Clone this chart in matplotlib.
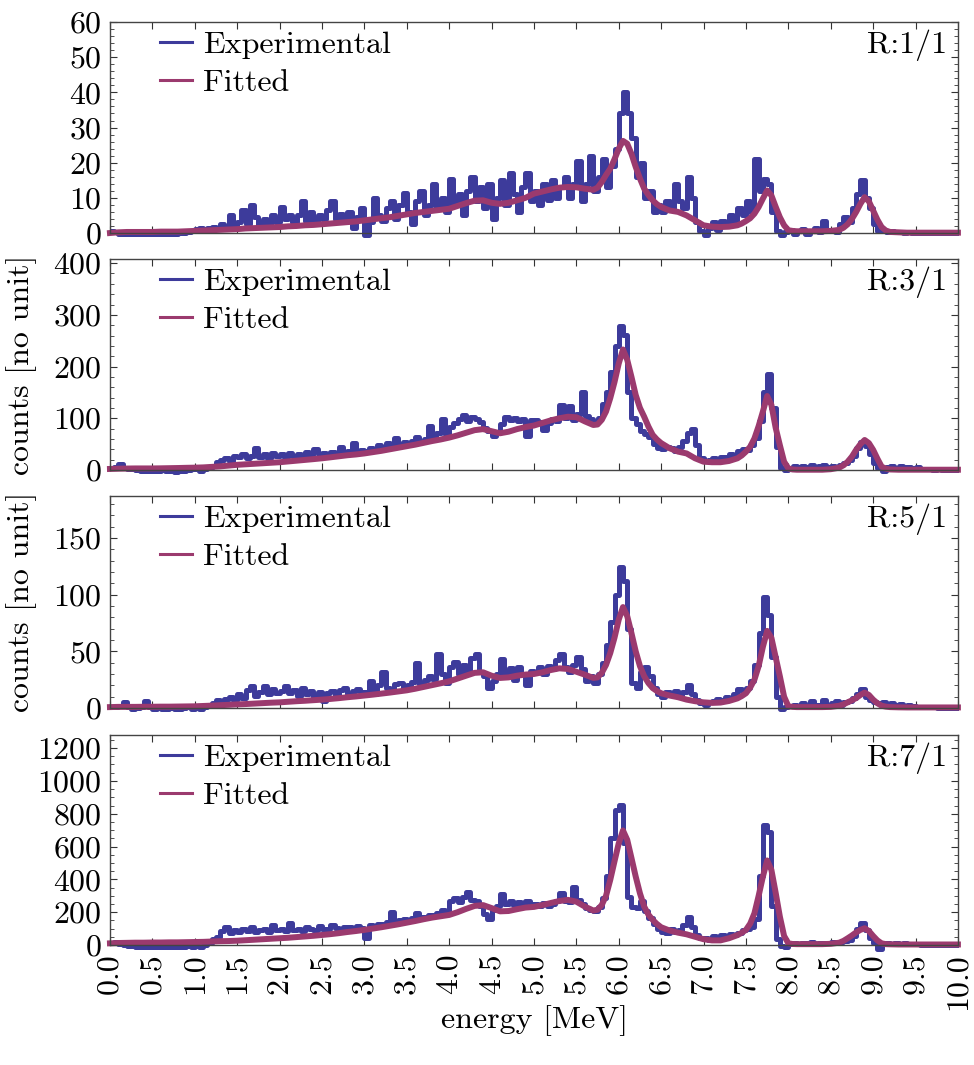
import numpy as np
import matplotlib
matplotlib.use('Agg')
import matplotlib.pyplot as plt
from matplotlib.ticker import MultipleLocator, FormatStrFormatter

# Computer Modern look (cmr10 ships with matplotlib)
plt.rcParams['font.family'] = 'cmr10'
plt.rcParams['mathtext.fontset'] = 'cm'
plt.rcParams['axes.formatter.use_mathtext'] = True

# detector bins, 0.05 MeV wide (bin centres)
exp_energy = np.arange(200) * 0.05 + 0.025

# fit evaluated on a grid that is finer around the three peaks
fit_energy = np.concatenate([
    np.linspace(0.0, 5.7, 58),
    np.linspace(5.75, 6.45, 15),
    np.linspace(6.5, 7.4, 10),
    np.linspace(7.45, 8.05, 13),
    np.linspace(8.1, 8.6, 6),
    np.linspace(8.65, 9.15, 11),
    np.linspace(9.2, 10.0, 9),
])

# ---- R:1/1 ----
exp_r1 = [
    0.5, 0.3, -0.2, -0.4, -0.3, -0.4, -0.3, -0.2, -0.4, -0.3, -0.2, -0.3, -0.4, -0.2, -0.3, -0.2, -0.1, 0.0, 0.3, 0.5,
    1.2, 1.5, 0.8, 1.3, 1.8, 1.5, 2.5, 2.0, 5.0, 1.5, 3.0, 6.5, 2.5, 8.0, 4.5, 2.0, 4.0, 2.5, 5.0, 3.0,
    7.5, 4.0, 5.0, 3.0, 5.0, 9.0, 3.5, 6.0, 3.0, 5.0, 4.0, 6.5, 9.0, 4.0, 5.5, 3.0, 6.0, 1.5, 4.5, 7.0,
    -0.5, 3.0, 10.0, 5.0, 3.5, 7.0, 9.0, 4.0, 8.0, 11.5, 6.0, 2.5, 9.0, 12.0, 5.0, 8.0, 14.0, 7.0, 10.0, 6.0,
    15.5, 8.0, 11.0, 5.0, 12.0, 16.0, 9.0, 13.0, 7.0, 14.0, 4.0, 10.0, 15.0, 8.0, 17.0, 11.0, 6.0, 13.0, 17.0, 9.0,
    12.0, 8.0, 14.0, 9.5, 15.0, 10.0, 13.0, 16.0, 10.0, 14.0, 20.5, 9.0, 14.0, 22.0, 12.0, 16.0, 21.0, 13.0, 19.0, 24.0,
    34.0, 40.0, 34.0, 27.0, 16.0, 20.0, 10.0, 12.0, 6.0, 8.0, 6.0, 9.0, 7.0, 14.0, 9.0, 7.0, 16.0, 10.0, 3.0, 0.5,
    -0.5, 1.5, 3.0, 1.0, 3.5, 2.0, 5.0, 3.0, 7.0, 5.0, 9.0, 6.0, 21.0, 12.0, 15.5, 14.0, 6.0, 0.5, -0.5, 0.3,
    0.8, -0.3, 0.5, 1.2, -0.2, 0.6, 1.5, 0.2, 3.5, 0.5, 1.0, 0.3, 2.5, 4.5, 3.0, 7.0, 11.0, 15.0, 10.0, 7.0,
    2.5, 0.5, 0.8, 0.3, 0.5, 0.2, 0.4, 0.1, 0.2, 0.1, 0.1, 0.1, 0.1, 0.1, 0.1, 0.1, 0.1, 0.1, 0.1, 0.1,
]
fit_r1 = [
    0.0, 0.2, 0.3, 0.3, 0.3, 0.3, 0.4, 0.4, 0.4, 0.5,
    0.6, 0.7, 0.8, 0.9, 1.0, 1.1, 1.3, 1.4, 1.5, 1.6,
    1.7, 1.9, 2.0, 2.2, 2.3, 2.5, 2.7, 2.9, 3.1, 3.3,
    3.6, 3.9, 4.2, 4.5, 4.9, 5.3, 5.7, 6.0, 6.3, 6.6,
    6.9, 7.7, 8.5, 9.2, 9.3, 8.6, 8.3, 8.6, 9.3, 10.0,
    11.2, 11.8, 12.4, 12.9, 13.1, 13.0, 12.6, 12.3,
    12.9, 14.5, 16.5, 18.3, 21.0, 24.0, 26.2, 25.4, 22.5, 18.8, 15.5, 12.6, 10.8, 9.3, 8.2,
    7.4, 6.4, 6.0, 5.0, 3.6, 2.2, 1.8, 1.7, 1.8, 2.2,
    2.7, 3.4, 4.2, 5.5, 7.4, 9.8, 12.1, 10.7, 7.5, 4.5, 2.2, 0.8, 0.6,
    0.5, 0.5, 0.5, 0.5, 0.6, 0.9,
    1.5, 2.5, 4.0, 6.0, 8.3, 10.2, 9.0, 6.4, 3.8, 1.7, 0.7,
    0.3, 0.2, 0.1, 0.1, 0.1, 0.1, 0.1, 0.1, 0.1,
]

# ---- R:3/1 ----
exp_r3 = [
    3, 5, 12, 4, 2, 1, 0, -1, -2, -1, -2, -1, 0, -2, -1, -3, -2, -1, 0, 1,
    2, -2, 1, 4, 8, 15, 20, 24, 18, 28, 25, 30, 24, 28, 42, 26, 30, 24, 32, 27,
    30, 26, 33, 28, 31, 27, 34, 29, 40, 30, 33, 28, 35, 31, 45, 33, 36, 52, 34, 38,
    36, 42, 39, 48, 44, 52, 47, 62, 50, 54, 49, 57, 63, 55, 60, 86, 64, 72, 98, 70,
    84, 90, 98, 106, 95, 102, 98, 92, 82, 76, 66, 72, 88, 103, 96, 100, 94, 98, 66, 96,
    96, 92, 78, 90, 98, 94, 125, 100, 124, 96, 108, 150, 104, 98, 92, 100, 128, 150, 190, 240,
    278, 262, 150, 100, 88, 76, 70, 64, 50, 43, 40, 45, 42, 36, 44, 56, 72, 80, 48, 24,
    18, 20, 24, 22, 26, 25, 30, 28, 36, 40, 38, 48, 62, 95, 150, 185, 120, 45, 3, 0,
    4, 7, 3, 8, 5, 9, 4, 7, 10, 5, 8, 6, 10, 14, 19, 28, 42, 55, 46, 30,
    14, 4, -2, 5, 7, 4, 8, 5, 6, 3, 6, 2, 1, 1, 0, 1, 0, 0, 0, 0,
]
fit_r3 = [
    2, 2.5, 2.8, 3, 3, 3, 3.2, 3.5, 3.8, 4.2,
    4.5, 5, 6, 7, 8.5, 10, 11, 12, 13, 14,
    15, 16.5, 18, 19.5, 21, 22.6, 24.5, 26.5, 28.5, 30,
    32, 34.5, 37, 40, 43, 46, 49, 52.5, 56, 59,
    62.6, 67, 72, 77, 79, 75, 71, 74, 79, 83,
    86, 91, 96, 100, 103, 102, 94, 87,
    88, 97, 113, 139, 170, 206, 233, 213, 180, 145, 120, 103, 84, 68, 59,
    52, 42, 35.5, 32, 22.6, 16, 15, 15, 17.4, 22.6,
    28, 35.5, 45, 61, 85, 113, 143, 126, 82, 48, 16, 3, 1,
    0.5, 0.5, 0.5, 0.5, 1.5, 4.5,
    9, 16, 26, 39, 50, 58, 52, 39, 22, 6.5, 2.5,
    1, 0.5, 0.5, 0.5, 0.5, 0.5, 0.5, 0.5, 0.5,
]

# ---- R:5/1 ----
exp_r5 = [
    1, 0.5, 1.5, 5.5, 1, -0.5, 0, 0.5, 6.5, 0.5, -1, 0, -0.5, -1, 0, -0.5, -1, 0, 0.5, -0.5,
    0, -1, 1, 2, 4, 7, 5, 8, 10, 7, 12, 9, 16, 19, 11, 14, 19, 12, 17, 13,
    15, 19, 13, 16, 11, 18, 12, 15, 10, 14, 6, 13, 15, 10, 16, 18, 12, 15, 17, 14,
    14, 24, 12, 20, 32, 18, 15, 21, 22, 17, 20, 23, 40, 21, 25, 28, 26, 48, 30, 22,
    36, 41, 30, 38, 33, 44, 48, 32, 28, 18, 24, 30, 43, 28, 35, 25, 36, 30, 20, 33,
    32, 36, 30, 37, 34, 42, 48, 36, 32, 38, 45, 34, 24, 28, 22, 30, 40, 56, 76, 100,
    124, 112, 70, 22, 18, 32, 36, 28, 18, 12, 10, 14, 13, 15, 11, 14, 20, 12, 7, 4,
    3, 5, 6, 8, 7, 10, 9, 12, 17, 14, 18, 24, 38, 66, 98, 82, 45, 10, -1, 1,
    2, 3, 1.5, 4, 2, 6, 3, 2.5, 7, 3, 4, 6, 3, 5, 6, 8.5, 12, 16.5, 10, 7.5,
    5, 4, 5.5, 3, 4, 2.5, 3.5, 2, 2.5, 1.5, 1, 1, 0.5, 0.5, 0.5, 0.3, 0.3, 0.3, 0.3, 0.3,
]
fit_r5 = [
    0.8, 1.0, 1.0, 1.0, 1.1, 1.1, 1.2, 1.2, 1.3, 1.4,
    1.5, 1.8, 2.1, 2.5, 2.8, 3.2, 3.5, 3.9, 4.3, 4.7,
    5.0, 5.5, 6.0, 6.4, 6.9, 7.4, 8.0, 8.7, 9.5, 10.2,
    11.0, 11.8, 12.7, 13.6, 14.6, 15.6, 17.0, 18.6, 20.2, 21.8,
    23.5, 26.0, 28.5, 31.0, 31.5, 28.5, 26.5, 27.0, 28.5, 29.5,
    30.0, 31.5, 33.5, 35.0, 34.4, 32.0, 29.4, 26.5,
    27, 31, 38, 48.5, 62, 78, 89, 81, 66, 50, 37, 28, 22, 17.6, 15,
    13, 11, 9.5, 7.4, 6, 5, 4.5, 4.8, 6.2, 8.5,
    10.5, 13, 18, 25, 37, 54, 68, 62, 45, 28, 10, 1.5, 1,
    0.8, 0.8, 0.8, 0.8, 1.0, 2.0,
    3.2, 5, 6.8, 8.8, 11.5, 13.6, 11.5, 7.4, 4.2, 2, 1.2,
    0.8, 0.6, 0.5, 0.5, 0.5, 0.5, 0.5, 0.5, 0.5,
]

# ---- R:7/1 ----
exp_r7 = [
    10, 18, 5, 0, -5, -8, -10, -12, -10, -14, -12, -15, -10, -14, -12, -15, -10, -12, -8, -10,
    -5, -10, 0, 10, 35, 50, 85, 110, 75, 90, 80, 95, 85, 110, 78, 90, 100, 82, 120, 90,
    95, 88, 135, 92, 100, 85, 110, 98, 92, 115, 100, 95, 120, 102, 90, 108, 112, 98, 115, 105,
    40, 120, 110, 125, 130, 140, 200, 135, 150, 160, 148, 165, 195, 170, 168, 180, 185, 195, 215, 205,
    270, 285, 260, 290, 320, 275, 265, 240, 190, 160, 215, 240, 310, 250, 265, 245, 260, 240, 270, 250,
    250, 238, 255, 240, 248, 265, 318, 270, 262, 355, 275, 250, 228, 215, 210, 230, 285, 420, 650, 820,
    855, 620, 290, 230, 225, 265, 205, 165, 130, 95, 80, 75, 95, 82, 90, 120, 170, 110, 60, 40,
    40, 30, 55, 48, 60, 52, 65, 58, 75, 90, 100, 110, 160, 420, 730, 690, 240, 35, -8, -10,
    5, 12, 8, 15, 10, 18, 8, 12, 15, 10, 18, 12, 16, 22, 30, 55, 95, 132, 90, 45,
    15, -25, 5, 10, 8, 12, 6, 10, 5, 8, 3, 2, 1, 1, 0, 1, 0, 0, 0, 0,
]
fit_r7 = [
    10, 12, 13, 14, 14, 15, 15, 16, 16, 17,
    18, 19, 21, 23, 24, 26, 29, 32, 35, 38,
    41, 44, 48, 52, 56, 61, 66, 72, 79, 85,
    92, 100, 108, 117, 126, 136, 146, 157, 167, 175,
    183, 200, 220, 238, 243, 225, 205, 207, 218, 228,
    232, 243, 256, 268, 275, 264, 234, 210,
    215, 244, 300, 397, 510, 620, 698, 641, 530, 417, 315, 234, 185, 153, 128,
    108, 88, 75, 65, 50, 35, 28, 28, 41, 60,
    74, 92, 130, 193, 300, 417, 515, 458, 320, 173, 55, 10, 6,
    5, 5, 5, 5, 7, 14,
    25, 41, 58, 77, 92, 102, 85, 55, 28, 10, 5,
    4, 3, 3, 3, 3, 3, 3, 3, 3,
]

ratio_labels = ['R:1/1', 'R:3/1', 'R:5/1', 'R:7/1']
exp_series = [exp_r1, exp_r3, exp_r5, exp_r7]
fit_series = [fit_r1, fit_r3, fit_r5, fit_r7]

# axis settings per panel: (ymax, major step, minor step)
y_axes = [(60, 10, 2), (408, 100, 20), (187, 50, 10), (1280, 200, 50)]

blue = '#3d3b9b'
magenta = '#9b3a6e'
fs = 23

fig = plt.figure(figsize=(9.74, 10.65), dpi=100)
rects = [
    [0.1129, 0.7812, 0.8706, 0.1981],
    [0.1129, 0.5587, 0.8706, 0.1981],
    [0.1129, 0.3352, 0.8706, 0.1991],
    [0.1129, 0.1127, 0.8706, 0.1972],
]

for i in range(4):
    ax = fig.add_axes(rects[i])
    ax.plot(exp_energy, exp_series[i], drawstyle='steps-mid', color=blue,
            lw=3.6, label='Experimental', clip_on=False)
    ax.plot(fit_energy, fit_series[i], color=magenta, lw=4.3,
            label='Fitted', clip_on=False)

    ymax, major, minor = y_axes[i]
    ax.set_xlim(0, 10)
    ax.set_ylim(0, ymax)
    ax.xaxis.set_major_locator(MultipleLocator(0.5))
    ax.yaxis.set_major_locator(MultipleLocator(major))
    ax.yaxis.set_minor_locator(MultipleLocator(minor))
    ax.tick_params(which='both', direction='in', top=True, right=True,
                   labelsize=fs, color='#333333')
    ax.tick_params(which='major', length=5, width=0.8, pad=6)
    ax.tick_params(which='minor', length=3, width=0.6)
    for sp in ax.spines.values():
        sp.set_color('#444444')
        sp.set_linewidth(1.0)

    if i == 3:
        ax.xaxis.set_major_formatter(FormatStrFormatter('%.1f'))
        plt.setp(ax.get_xticklabels(), rotation=90)
    else:
        ax.tick_params(labelbottom=False)

    if i in (1, 2):
        ax.set_ylabel('counts [no unit]', fontsize=fs)
        ax.yaxis.set_label_coords(-0.086, 0.5)

    leg = ax.legend(loc='upper left', bbox_to_anchor=(0.059, 0.96),
                    frameon=False, fontsize=fs, borderpad=0, borderaxespad=0,
                    handlelength=1.0, handletextpad=0.35, labelspacing=0.32)
    for line in leg.get_lines():
        line.set_linewidth(2.2)

    ax.text(0.987, 0.89, ratio_labels[i], transform=ax.transAxes,
            ha='right', va='center', fontsize=fs)

fig.text(0.549, 0.042, 'energy [MeV]', ha='center', va='center', fontsize=fs)

fig.savefig('out.png', dpi=100)
